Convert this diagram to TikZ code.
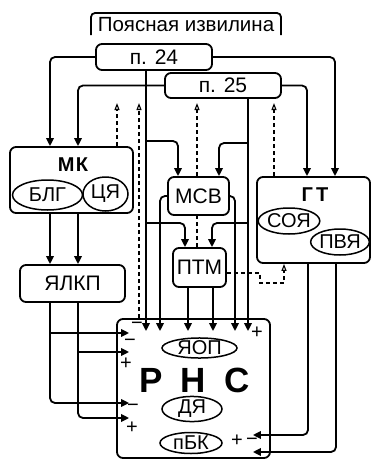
\documentclass[tikz,border=0pt]{standalone}
\usepackage{fontspec}
\setmainfont{Liberation Sans}
\usetikzlibrary{arrows.meta,shapes.geometric}
\begin{document}
\begin{tikzpicture}[x=1pt,y=-1pt,
  line width=1.8pt,
  box/.style={draw, rounded corners=6pt, line width=1.8pt, inner sep=0pt, font=\fontsize{21}{23}\selectfont},
  ell/.style={draw, ellipse, fill=white, inner sep=0pt, line width=1.5pt, font=\fontsize{20}{22}\selectfont},
  lbl/.style={inner sep=0pt, font=\fontsize{20.5}{22}\selectfont},
  bld/.style={inner sep=0pt, font=\fontsize{20}{22}\selectfont\bfseries},
  big/.style={inner sep=0pt, font=\fontsize{35}{38}\selectfont\bfseries},
  arr/.style={-{Triangle[length=8pt,width=7.5pt]}, rounded corners=5pt},
  dsh/.style={dash pattern=on 4pt off 3pt, line width=1.2pt},
  darr/.style={dsh, -{Triangle[open,length=7pt,width=5pt,line width=1.1pt]}},
  sgn/.style={inner sep=0pt, font=\fontsize{20}{22}\selectfont, text depth=0pt},
  mns/.style={sgn, text height=0.42em},
  pls/.style={sgn, text height=0.62em}
]
\useasboundingbox (0,0) rectangle (371,461);

% cingulate label and bracket
\node[lbl] (cing) at (186,25) {Поясная извилина};
\draw[rounded corners=4pt] (91,35) -- (91,13) -- (281,13) -- (281,35);

% boxes
\node[box, minimum width=116pt, minimum height=26pt] (p24) at (154,57) {п. 24};
\node[box, minimum width=116pt, minimum height=25pt] (p25) at (223,85.5) {п. 25};
\node[box, minimum width=123pt, minimum height=66pt] (mk) at (71.5,180) {};
\node[bld] (mkl) at (73,165) {М\kern1.5pt К};
\node[ell, minimum width=70pt, minimum height=30pt] (blg) at (47.5,195) {БЛГ};
\node[ell, minimum width=45pt, minimum height=34pt] (cya) at (105.5,194) {ЦЯ};
\node[box, minimum width=105pt, minimum height=37pt] (ylkp) at (72.5,283.5) {ЯЛКП};
\node[box, minimum width=61pt, minimum height=38pt] (msv) at (198.5,196) {МСВ};
\node[box, minimum width=53pt, minimum height=39pt] (ptm) at (199.5,267.5) {ПТМ};
\node[box, minimum width=113pt, minimum height=86pt] (gt) at (313.5,220) {};
\node[bld] (gtl) at (315,195) {Г\kern3pt Т};
\node[ell, minimum width=56pt, minimum height=26pt] (soya) at (289,221) {СОЯ};
\node[ell, minimum width=54pt, minimum height=26pt] (pvya) at (340,242) {ПВЯ};
\node[box, minimum width=153pt, minimum height=139pt] (rns) at (193.5,388.5) {};
\node[ell, minimum width=75pt, minimum height=20pt] (yop) at (199.5,348) {ЯОП};
\node[big] (R) at (151.5,380) {Р};
\node[big] (N) at (193,380) {Н};
\node[big] (S) at (237.5,380) {С};
\node[ell, minimum width=60pt, minimum height=21pt] (dya) at (192,409) {ДЯ};
\node[ell, minimum width=62pt, minimum height=21pt] (pbk) at (191,443) {пБК};

\coordinate (rtop) at ([yshift=-13pt]rns.north);
\coordinate (rleft) at ([xshift=13pt]rns.west);
\coordinate (rright) at ([xshift=-18pt]rns.east);

% cingulate projections
\draw[arr] (p24.west) -| (50,0 |- mk.north);
\draw[arr] (p25.west) -| (78,0 |- mk.north);
\draw[arr] (p24.east) -| (335,0 |- gt.north);
\draw[arr] (p25.east) -| (307,0 |- gt.north);
\draw[arr] (146,0 |- p24.south) -- (146,0 |- rtop);
\draw[arr] (146,141) -| (178,0 |- msv.north);
\draw[arr] (146,223) -| (185,0 |- ptm.north);
\draw[arr] (248,0 |- p25.south) -- (248,0 |- rtop);
\draw[arr] (248,143) -| (219,0 |- msv.north);
\draw[arr] (248,223) -| (212,0 |- ptm.north);

% MSV and PTM outputs
\draw[arr] (msv.west) -| (160,0 |- rtop);
\draw[arr] (msv.east) -| (235,0 |- rtop);
\draw[arr] (188,0 |- ptm.south) -- (188,0 |- rtop);
\draw[arr] (213,0 |- ptm.south) -- (213,0 |- rtop);

% MK -> YaLKP -> RNS
\draw[arr] (50,0 |- mk.south) -- (50,0 |- ylkp.north);
\draw[arr] (78,0 |- mk.south) -- (78,0 |- ylkp.north);
\draw[arr] (50,0 |- ylkp.south) |- (rleft |- 0,403);
\draw[arr] (50,333) -- (rleft |- 0,333);
\draw[arr] (78,0 |- ylkp.south) |- (rleft |- 0,418);
\draw[arr] (78,352) -- (rleft |- 0,352);

% GT -> RNS
\draw[arr] (308,0 |- gt.south) |- (rright |- 0,435);
\draw[arr] (336,0 |- gt.south) |- (rright |- 0,452);

% dashed feedback
\draw[darr] (117,0 |- mk.north) -- (117,103);
\draw[darr] (139,0 |- rns.north) -- (139,103);
\draw[dsh] (197,0 |- ptm.north) -- (197,0 |- msv.south);
\draw[darr] (197,0 |- msv.north) -- (197,103);
\draw[darr] (274,0 |- gt.north) -- (274,103);
\draw[darr] (ptm.east |- 0,273) -- (260,273) -- (260,283) -- (284,283) -- (284,0 |- gt.south);

% signs
\node[mns] (s1) at (137,327) {−};
\node[mns] (s2) at (130,344) {−};
\node[pls] (s3) at (126,366) {+};
\node[mns] (s4) at (133,409) {−};
\node[pls] (s5) at (132,430) {+};
\node[pls] (s6) at (257,335) {+};
\node[pls] (s7) at (237,443) {+};
\node[mns] (s8) at (252,443) {−};
\end{tikzpicture}
\end{document}
